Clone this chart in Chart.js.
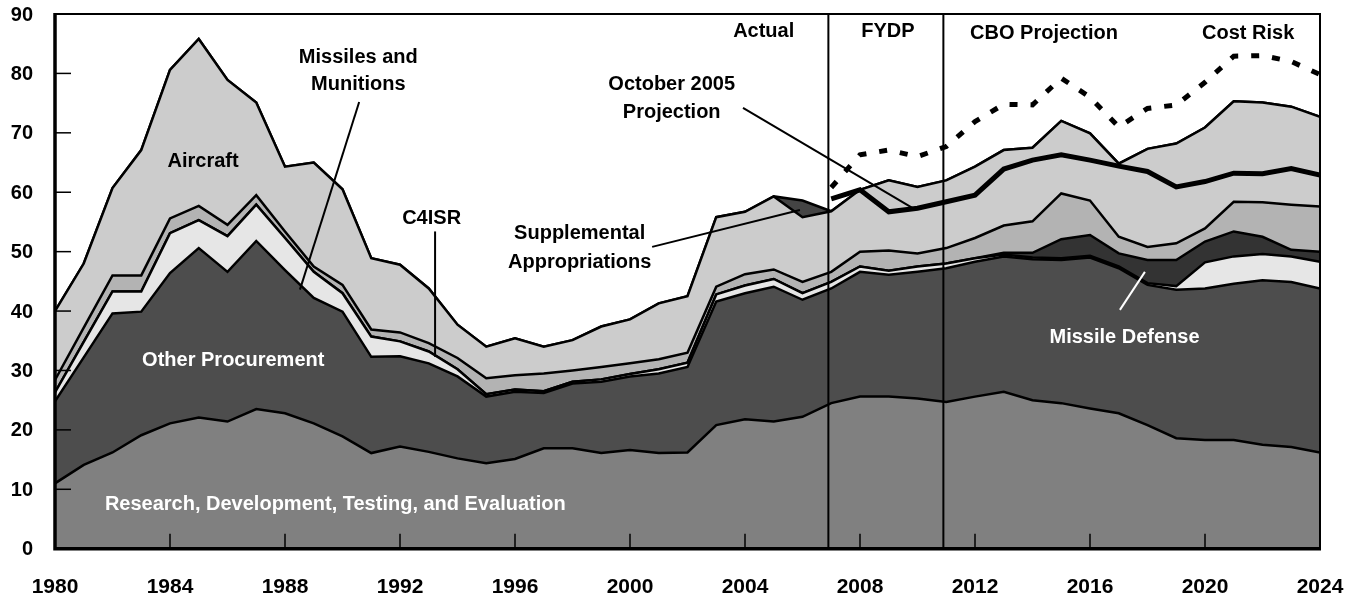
<!DOCTYPE html>
<html>
<head>
<meta charset="utf-8">
<script src="https://cdn.jsdelivr.net/npm/chart.js@4.4.1/dist/chart.umd.min.js"></script>
<style>
  html, body { margin: 0; padding: 0; background: #fff; }
  #wrap { width: 1359px; height: 598px; }
</style>
</head>
<body>
<div id="wrap"><canvas id="investChart"></canvas></div>
<script>
// years on the x axis
const years = [1980, 1981, 1982, 1983, 1984, 1985, 1986, 1987, 1988, 1989,
  1990, 1991, 1992, 1993, 1994, 1995, 1996, 1997, 1998, 1999,
  2000, 2001, 2002, 2003, 2004, 2005, 2006, 2007, 2008, 2009,
  2010, 2011, 2012, 2013, 2014, 2015, 2016, 2017, 2018, 2019,
  2020, 2021, 2022, 2023, 2024];

// stacked layers, bottom to top (billions of dollars)
const rdte = [11.0, 14.1, 16.2, 19.1, 21.1, 22.1, 21.4, 23.5, 22.8, 21.1,
  18.9, 16.1, 17.2, 16.3, 15.2, 14.4, 15.1, 16.9, 16.9, 16.1,
  16.6, 16.1, 16.2, 20.8, 21.8, 21.4, 22.2, 24.5, 25.6, 25.6,
  25.3, 24.7, 25.6, 26.4, 25.0, 24.5, 23.6, 22.8, 20.8, 18.6,
  18.3, 18.3, 17.5, 17.1, 16.2];
const otherProc = [13.8, 18.1, 23.4, 20.8, 25.3, 28.5, 25.2, 28.3, 24.1, 21.1,
  21.0, 16.2, 15.2, 14.9, 13.8, 11.2, 11.3, 9.3, 10.9, 12.0,
  12.4, 13.4, 14.4, 20.8, 21.2, 22.7, 19.7, 19.3, 21.0, 20.5,
  21.3, 22.5, 22.7, 22.8, 23.7, 24.1, 25.4, 24.4, 23.6, 25.0,
  25.5, 26.3, 27.7, 27.8, 27.6];
const missiles = [1.5, 2.6, 3.7, 3.4, 6.7, 4.7, 6.0, 6.1, 5.4, 4.4,
  3.1, 3.4, 2.5, 2.0, 1.2, 0.4, 0.4, 0.3, 0.3, 0.4,
  0.4, 0.7, 0.7, 1.2, 1.3, 1.3, 1.1, 1.1, 0.9, 0.7,
  0.9, 0.8, 0.6, 0.3, 0.3, 0.3, 0.3, 0.3, 0.3, 0.6,
  4.4, 4.6, 4.4, 4.3, 4.5];
const missileDef = [0, 0, 0, 0, 0, 0, 0, 0, 0, 0,
  0, 0, 0, 0, 0, 0, 0, 0, 0, 0,
  0, 0, 0, 0, 0, 0, 0, 0, 0, 0,
  0, 0, 0, 0.3, 0.8, 3.2, 3.5, 2.2, 3.9, 4.4,
  3.5, 4.2, 2.9, 1.1, 1.7];
const c4isr = [2.1, 2.4, 2.7, 2.7, 2.5, 2.4, 1.9, 1.6, 1.1, 0.9,
  1.4, 1.2, 1.5, 1.4, 1.9, 2.7, 2.4, 3.0, 1.9, 2.1,
  1.8, 1.7, 1.7, 1.3, 1.9, 1.6, 1.9, 1.7, 2.5, 3.4,
  2.2, 2.6, 3.4, 4.6, 5.3, 7.7, 5.8, 2.8, 2.2, 2.8,
  2.2, 5.0, 5.8, 7.6, 7.6];
const aircraft = [11.6, 10.8, 14.7, 21.1, 25.0, 28.1, 24.4, 15.6, 10.9, 17.5,
  16.1, 12.0, 11.4, 9.2, 5.6, 5.3, 6.2, 4.5, 5.1, 6.8,
  7.4, 9.4, 9.5, 11.7, 10.5, 12.3, 10.9, 10.2, 10.4, 11.8,
  11.2, 11.4, 12.0, 12.7, 12.4, 12.2, 11.3, 12.3, 16.5, 16.8,
  17.0, 16.9, 16.8, 16.5, 15.1];
const supplemental = [0, 0, 0, 0, 0, 0, 0, 0, 0, 0,
  0, 0, 0, 0, 0, 0, 0, 0, 0, 0,
  0, 0, 0, 0, 0, 0, 2.8, 0, 0, 0,
  0, 0, 0, 0, 0, 0, 0, 0, 0, 0,
  0, 0, 0, 0, 0];

// totals shown as lines from 2007 on
const lineYears = [2007, 2008, 2009, 2010, 2011, 2012, 2013, 2014, 2015,
  2016, 2017, 2018, 2019, 2020, 2021, 2022, 2023, 2024];
const oct2005 = [58.9, 60.4, 56.7, 57.3, 58.4, 59.5, 63.9, 65.4, 66.3,
  65.4, 64.4, 63.5, 60.9, 61.8, 63.2, 63.1, 64.0, 62.9];
const costRisk = [60.8, 66.3, 67.1, 66.0, 67.7, 71.9, 74.8, 74.7, 79.2,
  76.0, 71.0, 74.1, 74.7, 78.5, 82.9, 83.0, 82.0, 79.8];

// period dividers
const dividerYears = [2006.9, 2010.9];

// text placed in data units
const notes = [
  { text: 'Aircraft', x: 1985.15, y: 65.1, color: '#000' },
  { text: 'Missiles and', x: 1990.55, y: 82.7, color: '#000' },
  { text: 'Munitions', x: 1990.55, y: 78.2, color: '#000' },
  { text: 'C4ISR', x: 1993.1, y: 55.6, color: '#000' },
  { text: 'October 2005', x: 2001.45, y: 78.1, color: '#000' },
  { text: 'Projection', x: 2001.45, y: 73.4, color: '#000' },
  { text: 'Supplemental', x: 1998.25, y: 53.1, color: '#000' },
  { text: 'Appropriations', x: 1998.25, y: 48.2, color: '#000' },
  { text: 'Actual', x: 2004.65, y: 87.0, color: '#000' },
  { text: 'FYDP', x: 2008.97, y: 87.0, color: '#000' },
  { text: 'CBO Projection', x: 2014.4, y: 86.8, color: '#000' },
  { text: 'Cost Risk', x: 2021.5, y: 86.8, color: '#000' },
  { text: 'Other Procurement', x: 1986.2, y: 31.6, color: '#fff' },
  { text: 'Research, Development, Testing, and Evaluation', x: 1989.75, y: 7.4, color: '#fff' },
  { text: 'Missile Defense', x: 2017.2, y: 35.6, color: '#fff' }
];
const leaders = [
  { x1: 1990.58, y1: 75.2, x2: 1988.52, y2: 43.6, color: '#000' },
  { x1: 1993.22, y1: 53.4, x2: 1993.22, y2: 32.3, color: '#000' },
  { x1: 2003.93, y1: 74.2, x2: 2009.85, y2: 57.3, color: '#000' },
  { x1: 2000.77, y1: 50.8, x2: 2005.91, y2: 57.0, color: '#000' },
  { x1: 2017.04, y1: 40.2, x2: 2017.91, y2: 46.6, color: '#fff' }
];

const FONT = "'Liberation Sans', Arial, sans-serif";

function pts(xs, vals) {
  return xs.map((x, i) => ({ x: x, y: vals[i] }));
}

function layer(label, vals, color, fill) {
  return {
    label: label,
    data: pts(years, vals),
    backgroundColor: color,
    borderColor: '#000',
    borderWidth: 2.5,
    fill: fill,
    stack: 'areas',
    pointRadius: 0,
    tension: 0
  };
}

const decorPlugin = {
  id: 'decor',
  afterDatasetsDraw(chart) {
    const ctx = chart.ctx;
    const a = chart.chartArea;
    const xs = chart.scales.x;
    const ys = chart.scales.y;
    ctx.save();
    ctx.strokeStyle = '#000';
    ctx.lineCap = 'butt';

    ctx.lineWidth = 2;
    dividerYears.forEach(function(v) {
      const px = xs.getPixelForValue(v);
      ctx.beginPath();
      ctx.moveTo(px, a.top);
      ctx.lineTo(px, a.bottom);
      ctx.stroke();
    });

    // inward tick marks
    ctx.lineWidth = 1.5;
    ys.ticks.forEach(function(t) {
      if (t.value <= ys.min || t.value >= ys.max) return;
      const py = ys.getPixelForValue(t.value);
      ctx.beginPath();
      ctx.moveTo(a.left, py);
      ctx.lineTo(a.left + 16, py);
      ctx.stroke();
    });
    xs.ticks.forEach(function(t) {
      if (t.value <= xs.min || t.value >= xs.max) return;
      const px = xs.getPixelForValue(t.value);
      ctx.beginPath();
      ctx.moveTo(px, a.bottom);
      ctx.lineTo(px, a.bottom - 15);
      ctx.stroke();
    });

    // frame
    ctx.lineWidth = 2;
    ctx.beginPath();
    ctx.moveTo(a.left, a.top);
    ctx.lineTo(a.right, a.top);
    ctx.lineTo(a.right, a.bottom);
    ctx.stroke();
    ctx.lineWidth = 3.5;
    ctx.beginPath();
    ctx.moveTo(a.left, a.top - 1);
    ctx.lineTo(a.left, a.bottom);
    ctx.lineTo(a.right + 1, a.bottom);
    ctx.stroke();
    ctx.restore();
  },
  afterDraw(chart) {
    const ctx = chart.ctx;
    const a = chart.chartArea;
    const xs = chart.scales.x;
    const ys = chart.scales.y;
    ctx.save();

    // axis labels at the library's tick positions
    ctx.fillStyle = '#000';
    ctx.textBaseline = 'middle';
    ctx.font = 'bold 20px ' + FONT;
    ctx.textAlign = 'right';
    ys.ticks.forEach(function(t) {
      ctx.fillText(String(t.value), a.left - 22, ys.getPixelForValue(t.value) + 1);
    });
    ctx.font = 'bold 21px ' + FONT;
    ctx.textAlign = 'center';
    xs.ticks.forEach(function(t) {
      ctx.fillText(String(t.value), xs.getPixelForValue(t.value), a.bottom + 39);
    });

    ctx.lineWidth = 2;
    leaders.forEach(function(l) {
      ctx.strokeStyle = l.color;
      ctx.beginPath();
      ctx.moveTo(xs.getPixelForValue(l.x1), ys.getPixelForValue(l.y1));
      ctx.lineTo(xs.getPixelForValue(l.x2), ys.getPixelForValue(l.y2));
      ctx.stroke();
    });
    ctx.font = 'bold 20px ' + FONT;
    ctx.textAlign = 'center';
    notes.forEach(function(n) {
      ctx.fillStyle = n.color;
      ctx.fillText(n.text, xs.getPixelForValue(n.x), ys.getPixelForValue(n.y));
    });
    ctx.restore();
  }
};

const ctx = document.getElementById('investChart').getContext('2d');
const investChart = new Chart(ctx, {
  type: 'line',
  data: {
    datasets: [
      {
        label: 'Cost Risk',
        data: pts(lineYears, costRisk),
        borderColor: '#000',
        borderWidth: 5,
        borderDash: [8, 13],
        borderCapStyle: 'butt',
        fill: false,
        stack: 'risk',
        pointRadius: 0,
        tension: 0
      },
      {
        label: 'October 2005 Projection',
        data: pts(lineYears, oct2005),
        borderColor: '#000',
        borderWidth: 5,
        fill: false,
        stack: 'oct',
        pointRadius: 0,
        tension: 0
      },
      layer('Research, Development, Testing, and Evaluation', rdte, '#808080', 'origin'),
      layer('Other Procurement', otherProc, '#4d4d4d', '-1'),
      layer('Missiles and Munitions', missiles, '#e6e6e6', '-1'),
      layer('Missile Defense', missileDef, '#333333', '-1'),
      layer('C4ISR', c4isr, '#b3b3b3', '-1'),
      layer('Aircraft', aircraft, '#cccccc', '-1'),
      layer('Supplemental Appropriations', supplemental, '#444444', '-1')
    ]
  },
  options: {
    responsive: true,
    maintainAspectRatio: false,
    animation: false,
    layout: { padding: { top: 14, right: 39, left: 0, bottom: 0 } },
    plugins: {
      legend: { display: false },
      tooltip: { enabled: false }
    },
    scales: {
      x: {
        type: 'linear',
        min: 1980,
        max: 2024,
        grid: { display: false, drawTicks: false },
        border: { display: false },
        ticks: { stepSize: 4, display: false },
        afterFit: function(scale) { scale.height = 49.3; }
      },
      y: {
        stacked: true,
        min: 0,
        max: 90,
        grid: { display: false, drawTicks: false },
        border: { display: false },
        ticks: { stepSize: 10, display: false },
        afterFit: function(scale) { scale.width = 55; }
      }
    }
  },
  plugins: [decorPlugin]
});
</script>
</body>
</html>
